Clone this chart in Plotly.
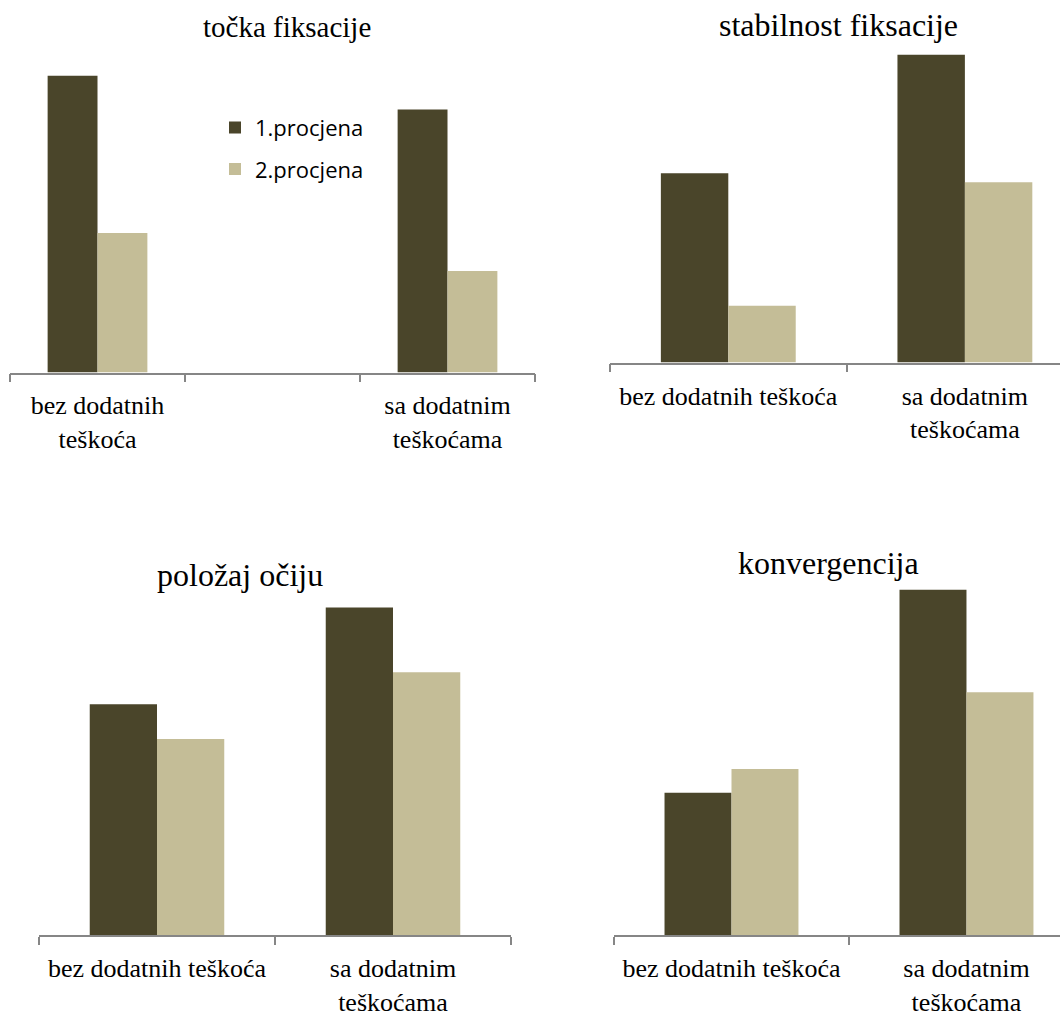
import plotly.graph_objects as go

W, H = 1060, 1017

# ---------------- data (relative bar heights) -------------
series_names = ["1.procjena", "2.procjena"]

cats_tocka = ["bez dodatnih<br>teškoća", " ", "sa dodatnim<br>teškoćama"]
tocka_p1 = [298, None, 264]
tocka_p2 = [140, None, 102]

cats_stab = ["bez dodatnih teškoća", "sa dodatnim<br>teškoćama"]
stab_p1 = [190, 309]
stab_p2 = [57, 181]

cats_polozaj = ["bez dodatnih teškoća", "sa dodatnim<br>teškoćama"]
polozaj_p1 = [232, 329]
polozaj_p2 = [197, 264]

cats_konv = ["bez dodatnih teškoća", "sa dodatnim<br>teškoćama"]
konv_p1 = [143, 347]
konv_p2 = [167, 244]

titles = ["točka fiksacije", "stabilnost fiksacije", "položaj očiju", "konvergencija"]

# ---------------- styling ----------------
C1 = "#4A452A"
C2 = "#C4BD97"
AXC = "#868686"
SERIF = "Liberation Serif, Times New Roman, serif"

def px_x(p):
    return p / W

def px_y(p):
    return 1 - p / H

# panel geometry in pixels: (x_left, x_right, y_top, y_base, xrange)
panels = [
    dict(x0=10, x1=535, top=60, base=374, xr=[-0.5, 2.5]),
    dict(x0=610, x1=1060, top=40, base=364, xr=[-0.5, 1.402]),
    dict(x0=39, x1=511, top=600, base=939, xr=[-0.5, 1.5]),
    dict(x0=614, x1=1060, top=585, base=939, xr=[-0.5, 1.398]),
]
data = [
    (cats_tocka, tocka_p1, tocka_p2),
    (cats_stab, stab_p1, stab_p2),
    (cats_polozaj, polozaj_p1, polozaj_p2),
    (cats_konv, konv_p1, konv_p2),
]
title_pos = [(287, 27, 29), (838, 25, 32), (240, 577, 32), (828, 565, 32)]

fig = go.Figure()
layout = dict(
    width=W, height=H, autosize=False,
    margin=dict(l=0, r=0, t=0, b=0),
    paper_bgcolor="white", plot_bgcolor="white",
    barmode="group", bargap=0.43, bargroupgap=0,
    showlegend=True,
    legend=dict(
        x=px_x(215), y=px_y(107), xanchor="left", yanchor="top",
        font=dict(family="Open Sans, Noto Sans, sans-serif", size=22, color="#000"),
        bgcolor="rgba(0,0,0,0)", traceorder="grouped", tracegroupgap=10,
        itemclick=False, itemdoubleclick=False,
    ),
    annotations=[],
)

for i, (p, (cats, v1, v2)) in enumerate(zip(panels, data)):
    n = "" if i == 0 else str(i + 1)
    xa, ya = "x" + n, "y" + n
    fig.add_trace(go.Bar(x=cats, y=v1, name=series_names[0], marker=dict(color=C1, line=dict(width=0)),
                         xaxis=xa, yaxis=ya, legendgroup="a", showlegend=(i == 0)))
    fig.add_trace(go.Bar(x=cats, y=v2, name=series_names[1], marker=dict(color=C2, line=dict(width=0)),
                         xaxis=xa, yaxis=ya, legendgroup="b", showlegend=(i == 0)))
    hpx = p["base"] - p["top"]
    layout["xaxis" + n] = dict(
        domain=[px_x(p["x0"]), px_x(p["x1"])], anchor=ya,
        type="category", range=p["xr"], categoryorder="array", categoryarray=cats,
        showline=True, linecolor=AXC, linewidth=1.5,
        ticks="outside", tickson="boundaries", ticklen=8, tickcolor=AXC, tickwidth=1.5,
        showgrid=False, zeroline=False, fixedrange=True,
        tickfont=dict(family=SERIF, size=26, color="#000"),
        ticklabelstandoff=9,
    )
    layout["yaxis" + n] = dict(
        domain=[px_y(p["base"]), px_y(p["top"])], anchor=xa,
        range=[0, hpx], visible=False, showgrid=False, zeroline=False, fixedrange=True,
    )
    tx, ty, ts = title_pos[i]
    layout["annotations"].append(dict(
        text=titles[i], x=px_x(tx), y=px_y(ty), xref="paper", yref="paper",
        xanchor="center", yanchor="middle", showarrow=False,
        font=dict(family=SERIF, size=ts, color="#000"),
    ))

fig.update_layout(**layout)
fig.write_html(
    "out.html",
    config={"displayModeBar": False},
    post_script="document.body.style.margin='0';document.body.style.overflow='hidden';",
)
